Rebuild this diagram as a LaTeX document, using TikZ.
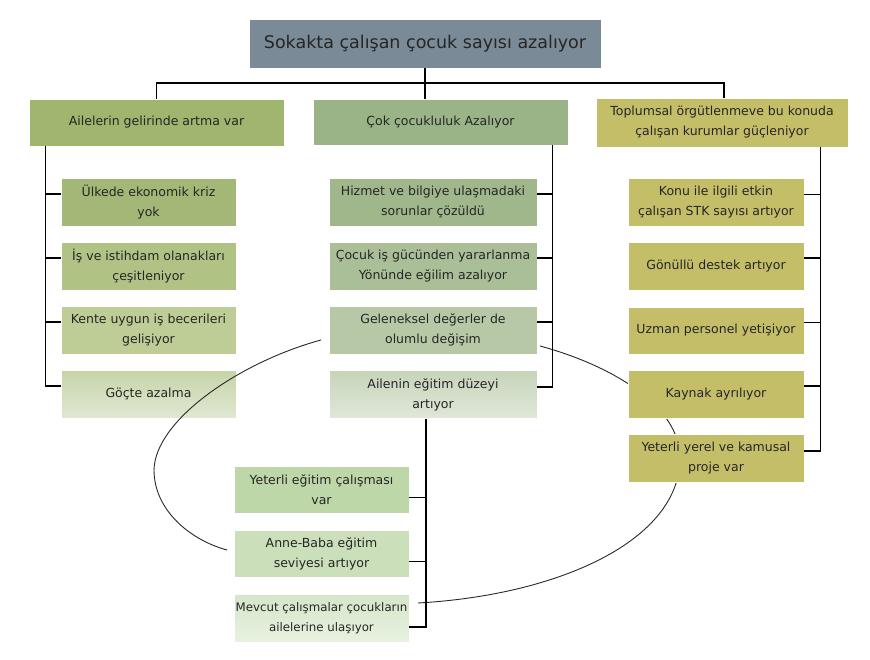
\documentclass[tikz,border=0pt]{standalone}
\usepackage{fontspec}
\setmainfont{DejaVu Sans}
\definecolor{ctitle}{RGB}{122,138,150}
\definecolor{clh}{RGB}{160,181,110}
\definecolor{cmh}{RGB}{155,180,135}
\definecolor{crh}{RGB}{196,190,104}
\definecolor{cla}{RGB}{163,184,118}
\definecolor{clb}{RGB}{176,195,133}
\definecolor{clc}{RGB}{190,205,150}
\definecolor{cldt}{RGB}{198,212,168}
\definecolor{cldb}{RGB}{224,232,210}
\definecolor{cma}{RGB}{160,183,140}
\definecolor{cmb}{RGB}{170,190,152}
\definecolor{cmc}{RGB}{183,200,167}
\definecolor{cmdt}{RGB}{198,212,185}
\definecolor{cmdb}{RGB}{224,232,217}
\definecolor{cba}{RGB}{190,215,168}
\definecolor{cbb}{RGB}{203,224,186}
\definecolor{cbct}{RGB}{212,230,200}
\definecolor{cbcb}{RGB}{232,241,225}
\definecolor{curvec}{RGB}{40,40,40}
\tikzset{
  box/.style={rectangle, inner sep=0pt, align=center, draw=white, line width=0.6pt,
    font=\fontsize{12.5}{20}\selectfont, text=black!85},
  lbox/.style={box, minimum width=175pt, minimum height=48pt},
  mbox/.style={box, minimum width=208pt, minimum height=48pt},
  bbox/.style={box, minimum width=175pt, minimum height=47pt},
  rbox/.style={box, minimum width=176pt, minimum height=48pt, fill=crh},
  head/.style={box, minimum width=255pt, minimum height=47pt},
  link/.style={draw=black, line width=1.2pt},
  loop/.style={draw=curvec, line width=0.9pt}
}
\begin{document}
\begin{tikzpicture}[x=1pt,y=-1pt]
\useasboundingbox (0,0) rectangle (870,660);

% right curve (behind right boxes)
\coordinate (rc1) at (540,346);
\coordinate (rc2) at (680,458);
\coordinate (rc3) at (418,603);
\draw[loop] (rc1) .. controls (610,365) and (680,405) .. (rc2)
  .. controls (680,540) and (560,595) .. (rc3);

% title and headers
\node[box, fill=ctitle, minimum width=352pt, minimum height=49pt,
  font=\fontsize{17.5}{21}\selectfont] (title) at (425,43.5) {Sokakta çalışan çocuk sayısı azalıyor};
\node[head, fill=clh] (lh) at (156.5,122.5) {Ailelerin gelirinde artma var};
\node[head, fill=cmh, minimum height=46pt] (mh) at (440.5,122) {Çok çocukluluk Azalıyor};
\node[head, fill=crh, minimum width=252pt, minimum height=49pt] (rh) at (722,122.5) {Toplumsal örgütlenmeve bu konuda\\çalışan kurumlar güçleniyor};

% left column
\node[lbox, fill=cla] (l1) at (148.5,202) {Ülkede ekonomik kriz\\yok};
\node[lbox, fill=clb] (l2) at (148.5,266) {İş ve istihdam olanakları\\çeşitleniyor};
\node[lbox, fill=clc] (l3) at (148.5,330) {Kente uygun iş becerileri\\gelişiyor};
\node[lbox, top color=cldt, bottom color=cldb] (l4) at (148.5,394) {Göçte azalma};

% middle column
\node[mbox, fill=cma] (m1) at (433,202) {Hizmet ve bilgiye ulaşmadaki\\sorunlar çözüldü};
\node[mbox, fill=cmb] (m2) at (433,266) {Çocuk iş gücünden yararlanma\\Yönünde eğilim azalıyor};
\node[mbox, fill=cmc] (m3) at (433,330) {Geleneksel değerler de\\olumlu değişim};
\node[mbox, top color=cmdt, bottom color=cmdb] (m4) at (433,394.5) {Ailenin eğitim düzeyi\\artıyor};

% bottom column
\node[bbox, fill=cba] (b1) at (321.5,489.5) {Yeterli eğitim çalışması\\var};
\node[bbox, fill=cbb] (b2) at (321.5,553.5) {Anne-Baba eğitim\\seviyesi artıyor};
\node[bbox, top color=cbct, bottom color=cbcb, minimum height=48pt,
  font=\fontsize{11.8}{20}\selectfont] (b3) at (321.5,618) {Mevcut çalışmalar çocukların\\ailelerine ulaşıyor};

% right column
\node[rbox] (r1) at (716,202.5) {Konu ile ilgili etkin\\çalışan STK sayısı artıyor};
\node[rbox] (r2) at (716,266) {Gönüllü destek artıyor};
\node[rbox, minimum height=47pt] (r3) at (716,330.5) {Uzman personel yetişiyor};
\node[rbox] (r4) at (716,394) {Kaynak ayrılıyor};
\node[rbox] (r5) at (716,458) {Yeterli yerel ve kamusal\\proje var};

% top connectors
\coordinate (bar) at (425,83);
\draw[link] (title.south) -- (title.south |- mh.north);
\draw[link] (lh.north) |- (bar) -| ([xshift=2pt]rh.north);

% left connectors
\draw[link] ([yshift=8pt]l4.west) -| ([xshift=17pt]lh.south west);
\foreach \n in {l1,l2,l3} \draw[link] ([yshift=8pt]\n.west) -| ([xshift=17pt]lh.south west);

% middle connectors
\draw[link] ([yshift=7.5pt]m4.east) -| ([xshift=-16pt]mh.south east);
\foreach \n in {m1,m2,m3} \draw[link] ([yshift=8pt]\n.east) -| ([xshift=-16pt]mh.south east);

% bottom connectors
\draw[link] ([yshift=-9pt]b3.east) -| ([xshift=-7pt]m4.south);
\foreach \n in {b1,b2} \draw[link] ([yshift=-8pt]\n.east) -| ([xshift=-7pt]m4.south);

% right connectors
\draw[link] ([yshift=7pt]r5.east) -| ([xshift=-28pt]rh.south east);
\foreach \n in {r1,r2,r3,r4} \draw[link] ([yshift=8pt]\n.east) -| ([xshift=-28pt]rh.south east);

% left curve (over the boxes)
\coordinate (lc1) at (321,340);
\coordinate (lc2) at (154,470);
\coordinate (lc3) at (227,550);
\draw[loop] (lc1) .. controls (240,362) and (155,420) .. (lc2)
  .. controls (154,510) and (190,540) .. (lc3);
\end{tikzpicture}
\end{document}
